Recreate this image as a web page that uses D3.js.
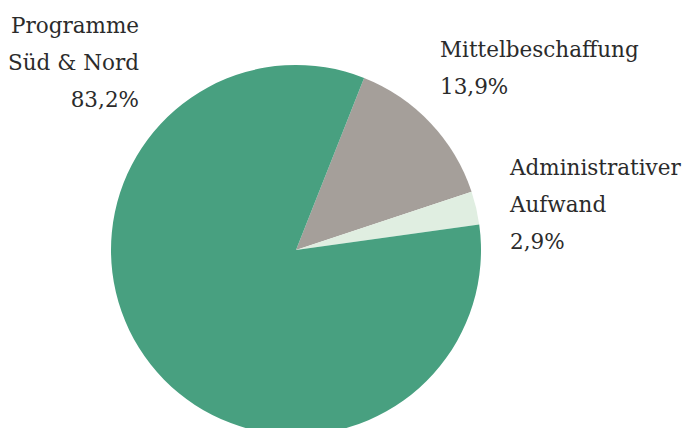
<!DOCTYPE html>
<html lang="de">
  <head>
    <meta charset="utf-8" />
    <title>Mittelverwendung</title>
    <script src="https://cdnjs.cloudflare.com/ajax/libs/d3/7.8.5/d3.min.js"></script>
    <style>
      html, body { margin: 0; padding: 0; background: #fff; }
      .label {
        font-family: "DejaVu Serif", serif;
        font-size: 21.5px;
        fill: #2b2b2b;
      }
    </style>
  </head>
  <body>
    <div id="chart"></div>
    <script>
      // Data, in drawing order (clockwise from the start angle).
      const categories = ['Mittelbeschaffung', 'Administrativer Aufwand', 'Programme Süd & Nord'];
      const values = [13.9, 2.9, 83.2];
      const valueLabels = ['13,9%', '2,9%', '83,2%'];
      const labelLines = [['Mittelbeschaffung'], ['Administrativer', 'Aufwand'], ['Programme', 'Süd & Nord']];
      const colors = ['#a59f9a', '#e0eee1', '#48a080'];

      const width = 692;
      const height = 428;
      const cx = 296;
      const cy = 250;
      const radius = 185;
      const lineHeight = 37;

      // Label anchors (layout only).
      const labelPos = [
        { x: 440, y: 57, anchor: 'start' },
        { x: 510, y: 175, anchor: 'start' },
        { x: 139, y: 33, anchor: 'end' }
      ];

      const svg = d3.select('#chart').append('svg')
        .attr('width', width)
        .attr('height', height);

      const pie = d3.pie()
        .sort(null)
        .startAngle(21.6 * Math.PI / 180)
        .endAngle(21.6 * Math.PI / 180 + 2 * Math.PI);

      const arc = d3.arc().innerRadius(0).outerRadius(radius);

      const g = svg.append('g')
        .attr('transform', `translate(${cx},${cy})`);

      g.selectAll('path')
        .data(pie(values))
        .join('path')
        .attr('d', arc)
        .attr('fill', (d, i) => colors[i]);

      // Labels.
      categories.forEach((c, i) => {
        const lines = labelLines[i].concat([valueLabels[i]]);
        const t = svg.append('text')
          .attr('class', 'label')
          .attr('text-anchor', labelPos[i].anchor);
        lines.forEach((l, j) => {
          t.append('tspan')
            .attr('x', labelPos[i].x)
            .attr('y', labelPos[i].y + j * lineHeight)
            .text(l);
        });
      });
    </script>
  </body>
</html>
